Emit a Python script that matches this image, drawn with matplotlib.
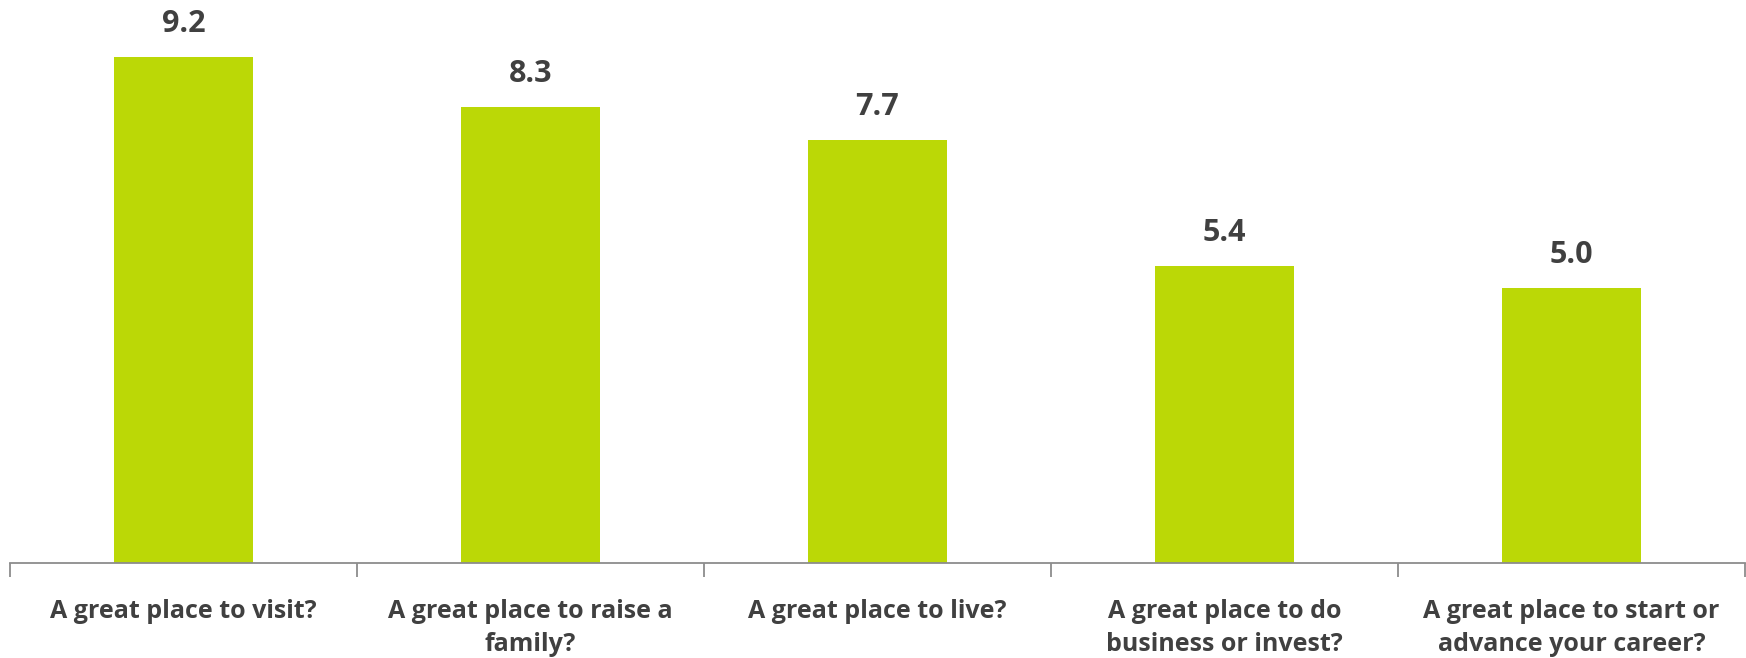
import matplotlib.pyplot as plt
import numpy as np

# chart data
categories = [
    "A great place to visit?",
    "A great place to raise a\nfamily?",
    "A great place to live?",
    "A great place to do\nbusiness or invest?",
    "A great place to start or\nadvance your career?",
]
scores = [9.2, 8.3, 7.7, 5.4, 5.0]

bar_color = "#BBD806"
text_color = "#404040"
axis_color = "#8C8C8C"

plt.rcParams['font.family'] = ['Open Sans', 'DejaVu Sans']

fig = plt.figure(figsize=(17.46, 6.58), dpi=100)
ax = fig.add_axes([10 / 1746, 95 / 658, 1735 / 1746, 563 / 658])

x = np.arange(len(categories))
bars = ax.bar(x, scores, width=0.4, color=bar_color)

# value labels above bars
for b, v in zip(bars, scores):
    ax.annotate(f"{v:.1f}", (b.get_x() + b.get_width() / 2, v),
                xytext=(0, 13), textcoords="offset points",
                ha="center", va="bottom", fontsize=22, fontweight="bold",
                color=text_color)

ax.set_xlim(-0.5, len(categories) - 0.5)
ax.set_ylim(0, 10.24)

# category labels, tick marks at the category boundaries
ax.set_xticks(x)
ax.set_xticklabels(categories, fontsize=18, fontweight="bold",
                   color=text_color, linespacing=1.4)
ax.tick_params(axis="x", which="major", length=0, pad=26)
ax.set_xticks(np.arange(-0.5, len(categories)), minor=True)
ax.tick_params(axis="x", which="minor", length=10, width=1.3, color=axis_color)

ax.set_yticks([])
for side in ["top", "right", "left"]:
    ax.spines[side].set_visible(False)
ax.spines["bottom"].set_color(axis_color)
ax.spines["bottom"].set_linewidth(1.3)

fig.savefig("out.png", dpi=100)
